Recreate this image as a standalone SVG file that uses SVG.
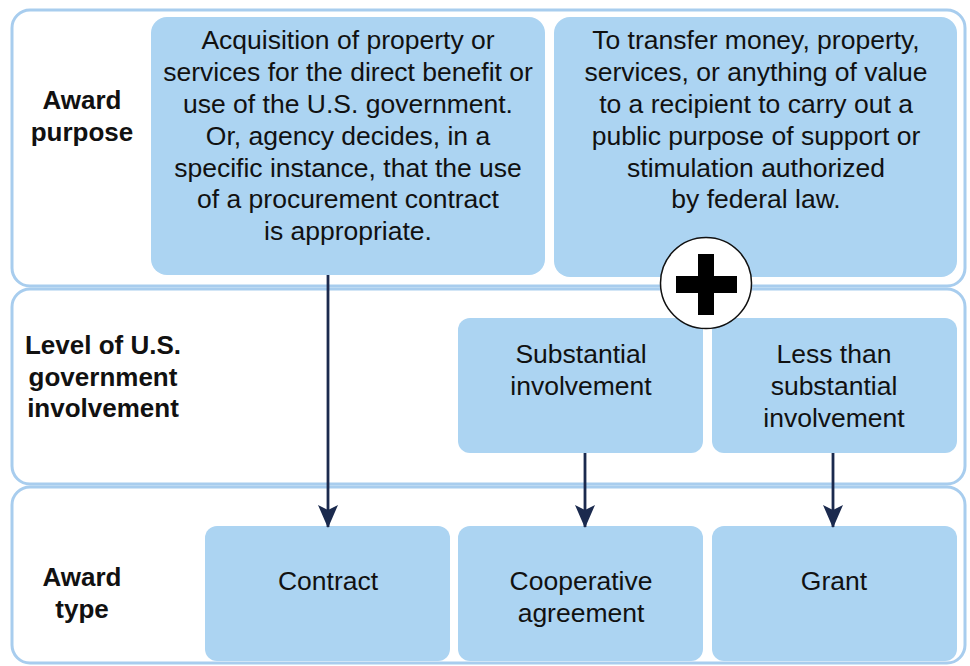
<svg xmlns="http://www.w3.org/2000/svg" width="970" height="666" viewBox="0 0 970 666">
<defs>
<style>
.panel{fill:#ffffff;stroke:#a8cdee;stroke-width:3}
.box{fill:#acd4f2;stroke:none}
.t{font-family:"Liberation Sans",Arial,sans-serif;font-size:26.5px;fill:#111111;text-anchor:middle}
.lab{font-family:"Liberation Sans",Arial,sans-serif;font-size:26px;font-weight:bold;fill:#111111;text-anchor:middle}
.conn{stroke:#1b2a4e;stroke-width:2.8;fill:none}
</style>
<marker id="ah" viewBox="0 0 23 20" refX="22" refY="10" markerWidth="23" markerHeight="20" markerUnits="userSpaceOnUse" orient="auto">
<path d="M0,0 L23,10 L0,20 L5,10 Z" fill="#1b2a4e"/>
</marker>
</defs>
<rect width="970" height="666" fill="#ffffff"/>
<g id="panels">
<rect class="panel" x="12" y="10" width="953" height="276" rx="18"/>
<rect class="panel" x="12" y="289" width="953" height="195" rx="18"/>
<rect class="panel" x="12" y="487" width="953" height="176" rx="18"/>
</g>
<g id="label-purpose"><text class="lab" x="82" y="109">Award</text><text class="lab" x="82" y="141">purpose</text></g>
<g id="label-involvement"><text class="lab" x="103" y="354">Level of U.S.</text><text class="lab" x="103" y="386">government</text><text class="lab" x="103" y="417">involvement</text></g>
<g id="label-type"><text class="lab" x="82" y="586">Award</text><text class="lab" x="82" y="618">type</text></g>
<g id="box-acquisition">
<rect class="box" x="151" y="17" width="394" height="258" rx="16"/>
<text class="t" x="348" y="49">Acquisition of property or</text>
<text class="t" x="348" y="81">services for the direct benefit or</text>
<text class="t" x="348" y="113">use of the U.S. government.</text>
<text class="t" x="348" y="145">Or, agency decides, in a</text>
<text class="t" x="348" y="177">specific instance, that the use</text>
<text class="t" x="348" y="208">of a procurement contract</text>
<text class="t" x="348" y="240">is appropriate.</text>
</g>
<g id="box-transfer">
<rect class="box" x="554" y="17" width="403" height="260" rx="16"/>
<text class="t" x="756" y="49">To transfer money, property,</text>
<text class="t" x="756" y="81">services, or anything of value</text>
<text class="t" x="756" y="113">to a recipient to carry out a</text>
<text class="t" x="756" y="145">public purpose of support or</text>
<text class="t" x="756" y="177">stimulation authorized</text>
<text class="t" x="756" y="208">by federal law.</text>
</g>
<g id="box-substantial">
<rect class="box" x="458" y="318" width="245" height="135" rx="12"/>
<text class="t" x="581" y="363">Substantial</text>
<text class="t" x="581" y="395">involvement</text>
</g>
<g id="box-less">
<rect class="box" x="712" y="318" width="245" height="135" rx="12"/>
<text class="t" x="834" y="363">Less than</text>
<text class="t" x="834" y="395">substantial</text>
<text class="t" x="834" y="427">involvement</text>
</g>
<g id="box-contract">
<rect class="box" x="205" y="526" width="245" height="135" rx="12"/>
<text class="t" x="328" y="590">Contract</text>
</g>
<g id="box-cooperative">
<rect class="box" x="458" y="526" width="245" height="135" rx="12"/>
<text class="t" x="581" y="590">Cooperative</text>
<text class="t" x="581" y="622">agreement</text>
</g>
<g id="box-grant">
<rect class="box" x="712" y="526" width="245" height="135" rx="12"/>
<text class="t" x="834" y="590">Grant</text>
</g>
<g id="connectors">
<line class="conn" x1="328" y1="275" x2="328" y2="527" marker-end="url(#ah)"/>
<line class="conn" x1="585" y1="453" x2="585" y2="527" marker-end="url(#ah)"/>
<line class="conn" x1="833" y1="453" x2="833" y2="527" marker-end="url(#ah)"/>
</g>
<g id="plus">
<circle cx="706" cy="283" r="45.5" fill="#ffffff" stroke="#111111" stroke-width="1.5"/>
<rect x="698" y="254" width="16" height="61" fill="#000000"/>
<rect x="676" y="276" width="61" height="17" fill="#000000"/>
</g>
</svg>
